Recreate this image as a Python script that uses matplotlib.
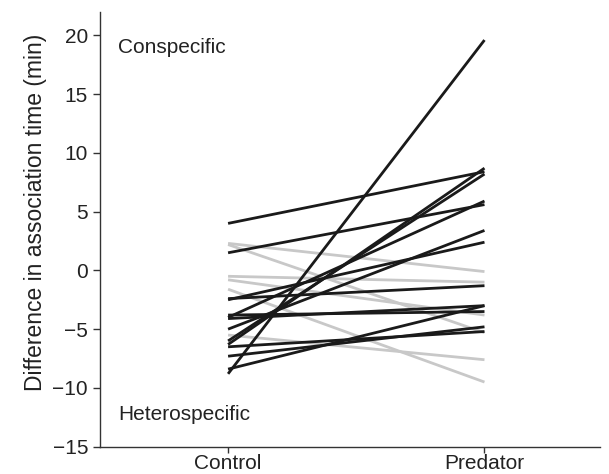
import matplotlib.pyplot as plt

plt.rcParams['font.family'] = ['Liberation Sans', 'DejaVu Sans']

conditions = ['Control', 'Predator']

# black lines: fish that shifted toward conspecifics (control, predator)
black_control = [4.0, 1.5, -8.8, -2.4, -4.1, -6.3, -6.0, -4.0, -5.0, -2.5, -7.3, -6.5, -3.8, -8.4]
black_predator = [8.4, 5.6, 19.6, -1.3, -3.0, 8.7, 8.2, 5.9, 3.4, 2.4, -4.8, -5.2, -3.5, -3.0]

# grey lines
grey_control = [2.3, 2.2, -0.5, -0.8, -5.5, -1.6]
grey_predator = [-0.1, -5.3, -1.0, -3.8, -7.6, -9.5]

fig = plt.figure(figsize=(6.09, 4.74), dpi=100)
ax = fig.add_axes([0.164, 0.0576, 0.821, 0.9174])

x = [0, 1]
for c, p in zip(grey_control, grey_predator):
    ax.plot(x, [c, p], color='#c8c8c8', lw=2.0, solid_capstyle='butt')
for c, p in zip(black_control, black_predator):
    ax.plot(x, [c, p], color='#1a1a1a', lw=2.0, solid_capstyle='butt')

ax.set_xlim(-0.5, 1.45)
ax.set_ylim(-15, 22)
ax.set_xticks(x)
ax.set_xticklabels(conditions)
ax.set_yticks(range(-15, 21, 5))
ax.set_yticklabels(['\u221215', '\u221210', '\u22125', '0', '5', '10', '15', '20'])
ax.tick_params(labelsize=15, length=5, width=1, color='#333333', labelcolor='#222222')
ax.tick_params(axis='x', length=4, pad=1)
ax.set_ylabel('Difference in association time (min)', fontsize=16.5, color='#222222')
ax.yaxis.set_label_coords(-0.105, 0.538)

for s in ['top', 'right']:
    ax.spines[s].set_visible(False)
for s in ['left', 'bottom']:
    ax.spines[s].set_color('#333333')
    ax.spines[s].set_linewidth(1)

ax.text(-0.43, 19.0, 'Conspecific', fontsize=15, va='center', color='#222222')
ax.text(-0.43, -12.3, 'Heterospecific', fontsize=15, va='center', color='#222222')

fig.savefig('out.png', dpi=100)
